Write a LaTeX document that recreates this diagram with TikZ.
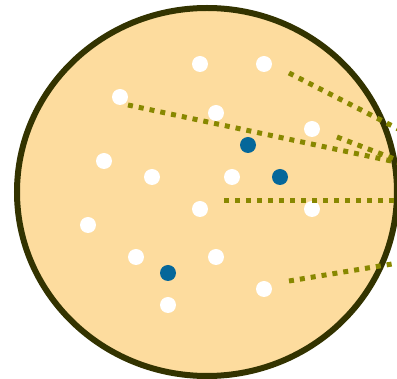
\documentclass[tikz,border=0pt]{standalone}
\usepackage{xcolor}
\usepackage{tikz}
\definecolor{dishfill}{HTML}{FDDC9E}
\definecolor{dishrim}{HTML}{333300}
\definecolor{cellblue}{HTML}{05679A}
\definecolor{rayolive}{HTML}{888800}

\begin{document}
\begin{tikzpicture}[x=1pt,y=-1pt,
  cell/.style={circle,fill=white,inner sep=0pt,minimum size=16pt},
  hit/.style={circle,fill=cellblue,inner sep=0pt,minimum size=16pt},
  ray/.style={rayolive,line width=5pt,dash pattern=on 5pt off 6pt}]
  \useasboundingbox (0,0) rectangle (397,379);
  \clip (0,0) rectangle (397,379);
  \draw[dishrim,fill=dishfill,line width=6pt] (207,192) ellipse [x radius=190,y radius=184];
  % cells
  \node[cell] (c1) at (200,64) {};
  \node[cell] (c2) at (264,64) {};
  \node[cell] (c3) at (120,97) {};
  \node[cell] (c4) at (216,113) {};
  \node[cell] (c5) at (312,129) {};
  \node[hit] (b1) at (248,145) {};
  \node[cell] (c6) at (104,161) {};
  \node[cell] (c7) at (152,177) {};
  \node[cell] (c8) at (232,177) {};
  \node[hit] (b2) at (280,177) {};
  \node[cell] (c9) at (200,209) {};
  \node[cell] (c10) at (312,209) {};
  \node[cell] (c11) at (88,225) {};
  \node[cell] (c12) at (136,257) {};
  \node[cell] (c13) at (216,257) {};
  \node[hit] (b3) at (168,273) {};
  \node[cell] (c14) at (264,289) {};
  \node[cell] (c15) at (168,305) {};
  % rays leaving the dish
  \coordinate (r1a) at (289,73);  \coordinate (r1b) at (410,135);
  \coordinate (r2a) at (128,105); \coordinate (r2b) at (410,165);
  \coordinate (r3a) at (337,137); \coordinate (r3b) at (410,165);
  \coordinate (r4a) at (224,201); \coordinate (r4b) at (410,201);
  \coordinate (r5a) at (289,281); \coordinate (r5b) at (410,261);
  \draw[ray] (r1a)--(r1b); \draw[ray] (r2a)--(r2b);
  \draw[ray] (r3a)--(r3b); \draw[ray] (r4a)--(r4b);
  \draw[ray] (r5a)--(r5b);
\end{tikzpicture}
\end{document}
